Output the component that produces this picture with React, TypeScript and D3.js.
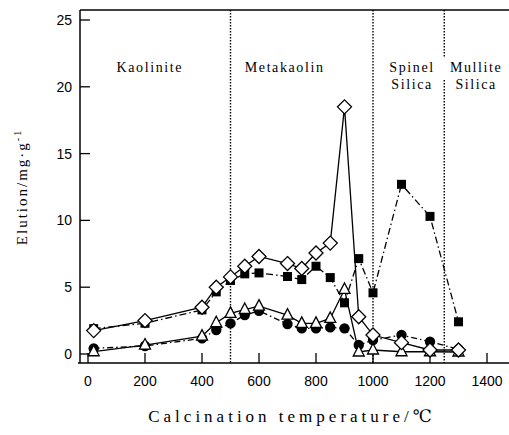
import React from "react";
import * as d3 from "d3";

const temps = [20, 200, 400, 450, 500, 550, 600, 700, 750, 800, 850, 900, 950, 1000, 1100, 1200, 1300];
const diamondVals = [1.75, 2.5, 3.5, 5.0, 5.77, 6.57, 7.3, 6.77, 6.4, 7.56, 8.3, 18.5, 2.79, 1.42, 0.85, 0.3, 0.3];
const squareVals = [1.9, 2.3, 3.3, 4.65, 5.5, 6.0, 6.07, 5.8, 5.57, 6.57, 5.72, 3.83, 7.14, 4.58, 12.7, 10.3, 2.41];
const triangleVals = [0.17, 0.67, 1.34, 2.34, 3.04, 3.33, 3.58, 2.91, 2.29, 2.29, 2.66, 4.83, 0.15, 0.3, 0.17, 0.17, 0.15];
const circleVals = [0.42, 0.6, 1.17, 1.8, 2.29, 2.91, 3.23, 2.24, 1.92, 1.92, 1.99, 1.92, 0.67, 1.04, 1.42, 0.92, 0.35];

const xTicks = [0, 200, 400, 600, 800, 1000, 1200, 1400];
const yTicks = [0, 5, 10, 15, 20, 25];
const boundaries = [500, 1000, 1250];
const regions = [
  { lines: ["Kaolinite"], x: 217 },
  { lines: ["Metakaolin"], x: 690 },
  { lines: ["Spinel", "Silica"], x: 1137 },
  { lines: ["Mullite", "Silica"], x: 1362 },
];

const width = 509;
const height = 435;
const x = d3.scaleLinear().domain([0, 1400]).range([88, 487]);
const y = d3.scaleLinear().domain([0, 25]).range([354, 20]);
const top = 10;
const bottom = 363;
const left = 80;

const serif = "'Liberation Serif', 'DejaVu Serif', serif";
const sans = "'Liberation Sans', Arial, sans-serif";

type Series = { vals: number[]; dash: string; kind: string };
const series: Series[] = [
  { vals: circleVals, dash: "6,3,1.5,3", kind: "circle" },
  { vals: squareVals, dash: "7,3,1.5,3", kind: "square" },
  { vals: triangleVals, dash: "", kind: "triangle" },
  { vals: diamondVals, dash: "", kind: "diamond" },
];

const line = d3
  .line<number>()
  .x((_, i) => x(temps[i]))
  .y((d) => y(d));

function marker(kind: string, cx: number, cy: number, key: string) {
  if (kind === "circle") return <circle key={key} cx={cx} cy={cy} r={5.2} fill="#000" />;
  if (kind === "square") return <rect key={key} x={cx - 4.5} y={cy - 4.5} width={9} height={9} fill="#000" />;
  if (kind === "triangle")
    return (
      <path key={key} d={`M${cx},${cy - 6.5}L${cx + 5.5},${cy + 4}L${cx - 5.5},${cy + 4}Z`} fill="#fff" stroke="#000" strokeWidth={1.3} />
    );
  return (
    <path key={key} d={`M${cx},${cy - 7}L${cx + 7},${cy}L${cx},${cy + 7}L${cx - 7},${cy}Z`} fill="#fff" stroke="#000" strokeWidth={1.3} />
  );
}

export default function App() {
  return (
    <svg width={width} height={height} style={{ position: "absolute", left: 0, top: 0, background: "#fff" }}>
      {/* frame */}
      <line x1={left} x2={509} y1={top} y2={top} stroke="#000" strokeWidth={1.3} />
      <line x1={left} x2={left} y1={top} y2={bottom} stroke="#000" strokeWidth={1.5} />
      <line x1={left - 2} x2={509} y1={bottom} y2={bottom} stroke="#000" strokeWidth={1.5} />

      {yTicks.map((t) => (
        <g key={"y" + t}>
          <line x1={left} x2={left + 10} y1={y(t)} y2={y(t)} stroke="#000" strokeWidth={1.3} />
          <text x={left - 8} y={y(t) + 5} textAnchor="end" fontFamily={sans} fontSize={14}>
            {t}
          </text>
        </g>
      ))}
      {xTicks.map((t) => (
        <g key={"x" + t}>
          <line x1={x(t)} x2={x(t)} y1={bottom} y2={bottom - 10} stroke="#000" strokeWidth={1.3} />
          <text x={x(t)} y={386} textAnchor="middle" fontFamily={sans} fontSize={14}>
            {t}
          </text>
        </g>
      ))}

      {/* phase boundaries */}
      {boundaries.map((b) =>
        b === 1250 ? (
          <g key={"b" + b}>
            <line x1={x(b)} x2={x(b)} y1={top} y2={58} stroke="#000" strokeWidth={1.4} strokeDasharray="1.5,1.5" />
            <line x1={x(b)} x2={x(b)} y1={80} y2={bottom} stroke="#000" strokeWidth={1.4} strokeDasharray="1.5,1.5" />
          </g>
        ) : (
          <line key={"b" + b} x1={x(b)} x2={x(b)} y1={top} y2={bottom} stroke="#000" strokeWidth={1.4} strokeDasharray="1.5,1.5" />
        )
      )}

      {regions.map((r) =>
        r.lines.map((l, i) => (
          <text key={r.x + l} x={x(r.x)} y={72 + i * 17} textAnchor="middle" fontFamily={serif} fontSize={14} letterSpacing={1.6}>
            {l}
          </text>
        ))
      )}

      {series.map((s) => (
        <path key={s.kind + "l"} d={line(s.vals) || ""} fill="none" stroke="#000" strokeWidth={1.3} strokeDasharray={s.dash || undefined} />
      ))}
      {series.map((s) => s.vals.map((v, i) => marker(s.kind, x(temps[i]), y(v), s.kind + i)))}

      <text transform={`translate(27,187) rotate(-90)`} textAnchor="middle" fontFamily={serif} fontSize={15} letterSpacing={2}>
        Elution/mg·g<tspan dy={-6} fontSize={10}>-1</tspan>
      </text>
      <text x={292} y={422} textAnchor="middle" fontFamily={serif} fontSize={17} letterSpacing={4}>
        Calcination temperature/℃
      </text>
    </svg>
  );
}
